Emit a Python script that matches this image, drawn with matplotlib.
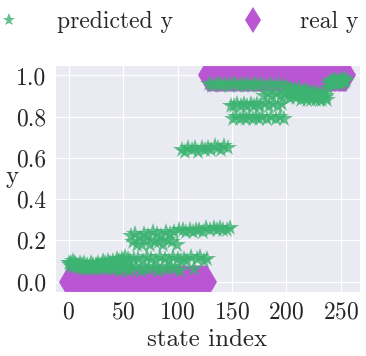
import numpy as np
import matplotlib
matplotlib.use('Agg')
import matplotlib.pyplot as plt
import seaborn as sns

# Datos: 256 estados, valor real y valor predicho
real_y = [0.0] * 128 + [1.0] * 128

predicted_y = [
    0.09, 0.08, 0.09, 0.07, 0.10, 0.08, 0.09, 0.07,
    0.08, 0.07, 0.09, 0.06, 0.08, 0.07, 0.09, 0.06,
    0.07, 0.08, 0.06, 0.07, 0.09, 0.07, 0.08, 0.06,
    0.06, 0.08, 0.07, 0.09, 0.06, 0.07, 0.08, 0.10,
    0.07, 0.09, 0.06, 0.08, 0.10, 0.07, 0.09, 0.06,
    0.08, 0.10, 0.06, 0.09, 0.11, 0.07, 0.10, 0.05,
    0.09, 0.11, 0.06, 0.10, 0.12, 0.07, 0.11, 0.05,
    0.10, 0.22, 0.06, 0.19, 0.11, 0.23, 0.07, 0.18,
    0.11, 0.21, 0.05, 0.18, 0.10, 0.23, 0.06, 0.20,
    0.12, 0.22, 0.06, 0.18, 0.11, 0.24, 0.07, 0.19,
    0.10, 0.23, 0.05, 0.19, 0.12, 0.22, 0.06, 0.18,
    0.11, 0.24, 0.06, 0.20, 0.10, 0.23, 0.07, 0.19,
    0.12, 0.24, 0.06, 0.18, 0.11, 0.25, 0.05, 0.10,
    0.64, 0.25, 0.11, 0.63, 0.24, 0.10, 0.65, 0.25,
    0.12, 0.64, 0.24, 0.06, 0.65, 0.25, 0.11, 0.63,
    0.25, 0.12, 0.65, 0.24, 0.10, 0.64, 0.26, 0.11,
    0.65, 0.96, 0.25, 0.64, 0.95, 0.26, 0.66, 0.96,
    0.25, 0.65, 0.96, 0.26, 0.64, 0.95, 0.25, 0.66,
    0.96, 0.25, 0.65, 0.95, 0.26, 0.85, 0.96, 0.79,
    0.85, 0.96, 0.80, 0.86, 0.95, 0.79, 0.85, 0.96,
    0.80, 0.86, 0.95, 0.79, 0.85, 0.96, 0.80, 0.86,
    0.95, 0.79, 0.85, 0.96, 0.80, 0.86, 0.95, 0.79,
    0.85, 0.96, 0.80, 0.90, 0.86, 0.95, 0.79, 0.91,
    0.85, 0.96, 0.80, 0.90, 0.86, 0.95, 0.79, 0.91,
    0.85, 0.96, 0.80, 0.90, 0.86, 0.94, 0.79, 0.91,
    0.95, 0.90, 0.93, 0.89, 0.94, 0.91, 0.92, 0.90,
    0.93, 0.89, 0.92, 0.90, 0.94, 0.88, 0.91, 0.90,
    0.92, 0.89, 0.93, 0.88, 0.91, 0.90, 0.92, 0.88,
    0.91, 0.89, 0.92, 0.88, 0.90, 0.89, 0.91, 0.88,
    0.90, 0.88, 0.91, 0.89, 0.90, 0.88, 0.94, 0.96,
    0.97, 0.96, 0.98, 0.97, 0.96, 0.98, 0.97, 0.96,
    0.98, 0.97, 0.96, 0.98, 0.97, 0.99, 0.97, 0.98,
]

state_index = np.arange(len(real_y))


def main() -> None:
    sns.set_style('darkgrid')
    plt.rcParams['font.family'] = ['cmr10', 'DejaVu Serif']
    plt.rcParams['axes.formatter.use_mathtext'] = True

    fig = plt.figure(figsize=(3.66, 3.56), dpi=100)
    ax = fig.add_axes([0.150, 0.180, 0.834, 0.637])

    # Valores reales al fondo, predicciones encima
    ax.plot(state_index, real_y, 'd', color='#ba55d3', markersize=17,
            markeredgewidth=0, label='real y', zorder=2)
    ax.plot(state_index, predicted_y, '*', color='#3cb371', markersize=13,
            markeredgewidth=0, alpha=0.8, label='predicted y', zorder=3)

    ax.set_xticks([0, 50, 100, 150, 200, 250])
    ax.set_yticks([0.0, 0.2, 0.4, 0.6, 0.8, 1.0])
    ax.set_yticklabels(['0.0', '0.2', '0.4', '0.6', '0.8', '1.0'])
    ax.tick_params(labelsize=17, pad=3)
    ax.set_xlabel('state index', fontsize=18, labelpad=4)
    ax.set_ylabel('y', fontsize=18, rotation=0)
    ax.yaxis.set_label_coords(-0.14, 0.46)

    handles, labels = ax.get_legend_handles_labels()
    fig.legend(handles[::-1], labels[::-1], ncol=2, loc='center left',
               bbox_to_anchor=(0.0, 0.938), frameon=False, fontsize=17,
               borderpad=0, borderaxespad=0, handlelength=0.8,
               handletextpad=1.6, columnspacing=3.0, markerscale=0.75)

    fig.savefig('out.png', dpi=100)


if (__name__ == '__main__'):
    main()
